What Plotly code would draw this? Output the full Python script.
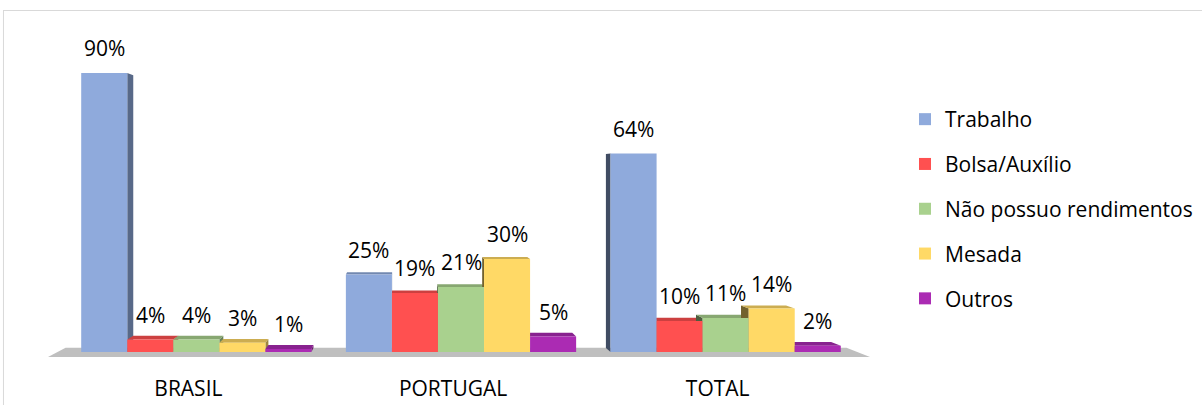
import plotly.graph_objects as go

# --- data -------------------------------------------------------------
categorias = ["BRASIL", "PORTUGAL", "TOTAL"]
series = ["Trabalho", "Bolsa/Auxílio", "Não possuo rendimentos", "Mesada", "Outros"]
trabalho = [90, 25, 64]
bolsa_auxilio = [4, 19, 10]
sem_rendimentos = [4, 21, 11]
mesada = [3, 30, 14]
outros = [1, 5, 2]
valores = [trabalho, bolsa_auxilio, sem_rendimentos, mesada, outros]
cores = ["#8FAADC", "#FF5050", "#A9D18E", "#FFD966", "#AB2BB3"]

# --- geometry ---------------------------------------------------------
W, H = 1202, 405
ML, MR, MT, MB = 64, 344, 42, 53
PLOT_W = W - ML - MR
PLOT_H = H - MT - MB
Y_MAX = 100
BAR_W = 0.174
PX_X = PLOT_W / 3          # pixels per category unit
PX_Y = PLOT_H / Y_MAX      # pixels per percentage point

# simple perspective: back edges recede toward a vanishing point
VX, VY = 336, 182          # pixels from plot bottom-left, y up
K_BAR = 0.022
K_FLOOR = 0.05
FONT = "Open Sans"


def recuo(px, py, k=K_BAR):
    return px + k * (VX - px), py + k * (VY - py)


def escurecer(hexcor, f):
    r, g, b = (int(hexcor[i:i + 2], 16) for i in (1, 3, 5))
    return "rgb({},{},{})".format(int(r * f), int(g * f), int(b * f))


def caminho(pts):
    return "M " + " L ".join("{:.2f},{:.2f}".format(x, y) for x, y in pts) + " Z"


def forma(pts, cor):
    return dict(
        type="path", path=caminho(pts), xref="paper", yref="paper",
        xsizemode="pixel", ysizemode="pixel", xanchor=0, yanchor=0,
        fillcolor=cor, line=dict(width=0), layer="below",
    )


fig = go.Figure()
shapes = []

# floor under the bars
fl, fr, fy = -16, PLOT_W + 12, -5
floor_pts = [(fl, fy), (fr, fy), recuo(fr, fy, K_FLOOR), recuo(fl, fy, K_FLOOR)]
shapes.append(forma(floor_pts, "#BFBFBF"))

anotacoes = []
for i, (nome, vals, cor) in enumerate(zip(series, valores, cores)):
    xs = [j + (i - 2) * BAR_W for j in range(len(categorias))]
    fig.add_trace(go.Bar(
        x=xs, y=vals, width=BAR_W, name=nome, legendgroup=nome,
        marker=dict(color=cor, line=dict(width=0)),
        hovertemplate="%{y}%<extra>" + nome + "</extra>",
    ))
    for xc, v in zip(xs, vals):
        xl = (xc - BAR_W / 2 + 0.5) * PX_X
        xr = xl + BAR_W * PX_X
        yt = v * PX_Y
        # side faces
        if VX > xr:
            shapes.append(forma([(xr, 0), (xr, yt), recuo(xr, yt), recuo(xr, 0)],
                                escurecer(cor, 0.62)))
        if VX < xl:
            shapes.append(forma([(xl, 0), (xl, yt), recuo(xl, yt), recuo(xl, 0)],
                                escurecer(cor, 0.45)))
        # top face
        if VY > yt:
            shapes.append(forma([(xl, yt), (xr, yt), recuo(xr, yt), recuo(xl, yt)],
                                escurecer(cor, 0.8)))
        anotacoes.append(dict(
            x=xc, y=v, xref="x", yref="y", text="{}%".format(v),
            showarrow=False, yshift=25, yanchor="middle",
            font=dict(family=FONT, size=21, color="#000000"),
        ))

# chart frame (top and left edges)
fx0 = (3 - ML) / PLOT_W
fx1 = (W - ML) / PLOT_W
fy_top = (H - MB - 10.5) / PLOT_H
fy_bot = (H - MB - H) / PLOT_H
shapes.append(dict(type="line", xref="paper", yref="paper", x0=fx0, x1=fx1,
                   y0=fy_top, y1=fy_top, line=dict(color="#D9D9D9", width=1)))
shapes.append(dict(type="line", xref="paper", yref="paper", x0=fx0 + 0.0006, x1=fx0 + 0.0006,
                   y0=fy_top, y1=fy_bot, line=dict(color="#D9D9D9", width=1)))

fig.update_layout(
    width=W, height=H,
    margin=dict(l=ML, r=MR, t=MT, b=MB, autoexpand=False),
    paper_bgcolor="white", plot_bgcolor="rgba(0,0,0,0)",
    barmode="overlay",
    shapes=shapes, annotations=anotacoes,
    font=dict(family=FONT, size=20, color="#000000"),
    xaxis=dict(
        range=[-0.5, 2.5], tickmode="array",
        tickvals=[j - 0.03 for j in range(len(categorias))], ticktext=categorias,
        showgrid=False, zeroline=False, showline=False, ticks="",
        automargin=False,
        ticklabelstandoff=22, tickfont=dict(family=FONT, size=21, color="#000000"),
        fixedrange=True,
    ),
    yaxis=dict(range=[0, Y_MAX], visible=False, fixedrange=True, automargin=False),
    legend=dict(
        x=(905 - ML) / PLOT_W, xanchor="left",
        y=(H - MB - 99) / PLOT_H, yanchor="top",
        font=dict(family=FONT, size=21, color="#000000"),
        tracegroupgap=14.5, traceorder="grouped",
        bgcolor="rgba(0,0,0,0)",
    ),
    showlegend=True,
)

fig.write_html("out.html")
